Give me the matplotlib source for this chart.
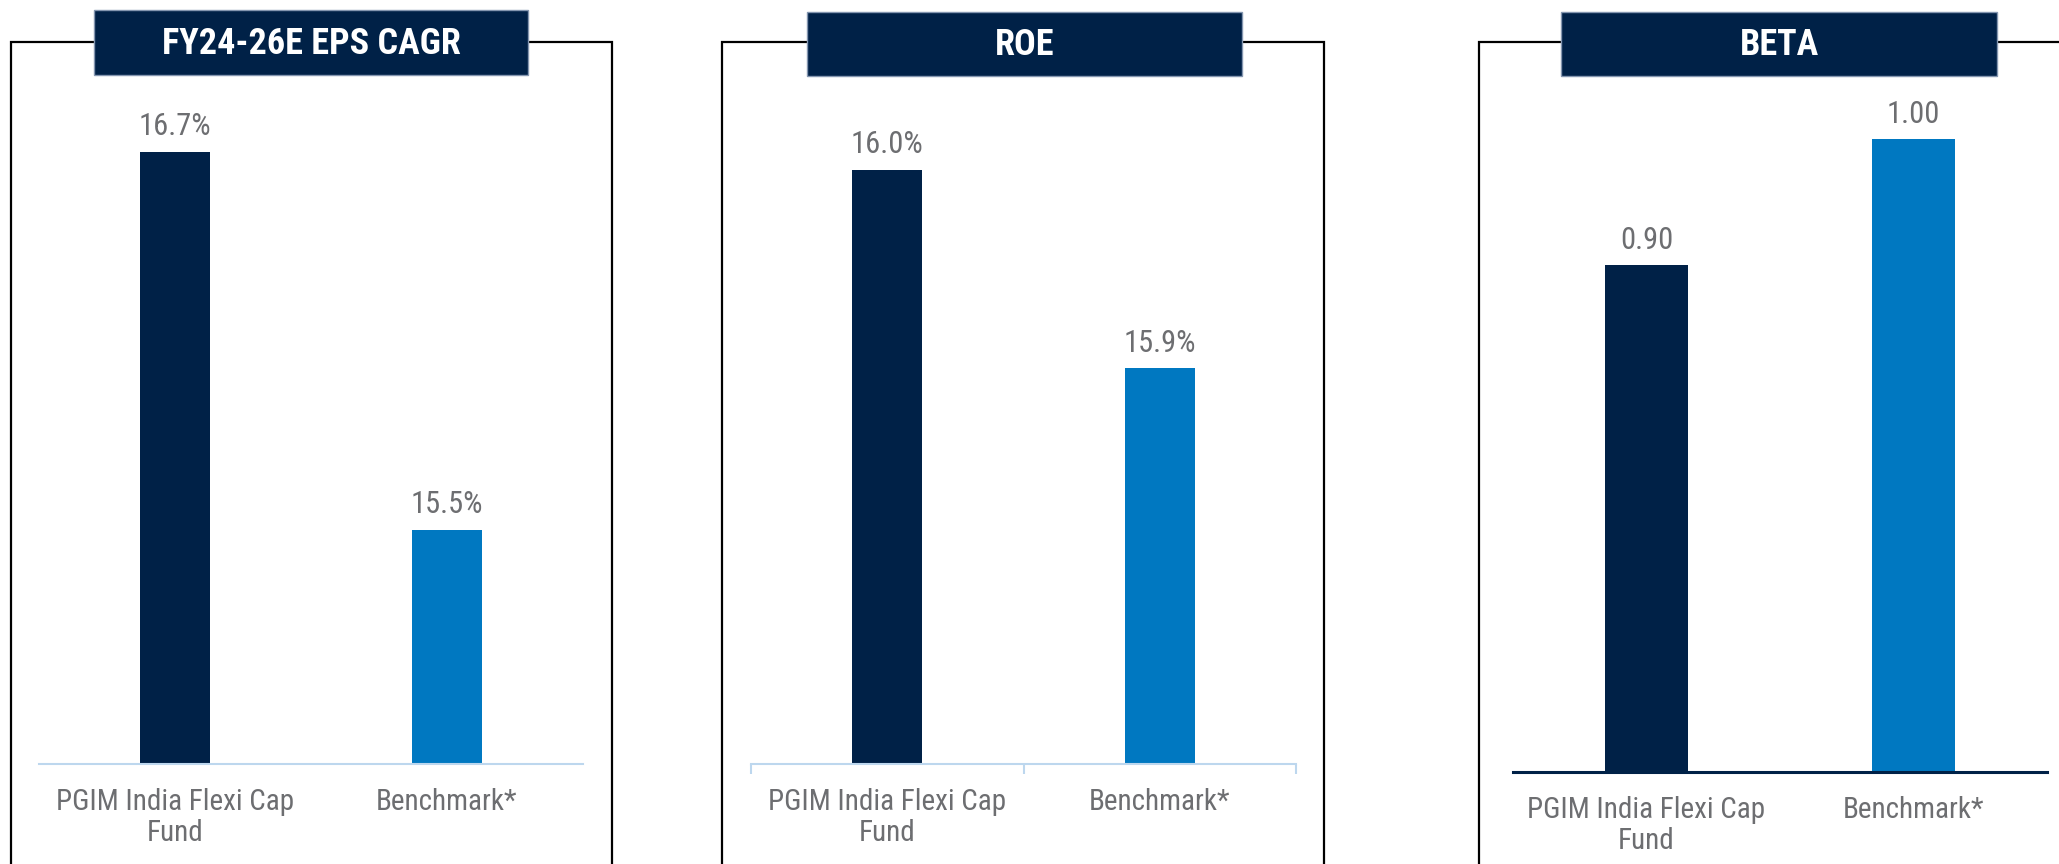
import numpy as np
import matplotlib
matplotlib.use("Agg")
import matplotlib.pyplot as plt
from matplotlib.patches import Rectangle

plt.rcParams['font.family'] = ['Roboto Condensed', 'Liberation Sans', 'DejaVu Sans']

# data
categories = ["PGIM India Flexi Cap\nFund", "Benchmark*"]
eps_cagr = [16.7, 15.5]
roe = [16.0, 15.9]
beta = [0.90, 1.00]
panel_titles = ["FY24-26E EPS CAGR", "ROE", "BETA"]

NAVY = "#002147"
BLUE = "#0078C1"
GREY = "#6D6E71"
LIGHT = "#BDD7EE"

W, H = 2059, 864
fig = plt.figure(figsize=(W / 100, H / 100), dpi=100)


def frac(x0, y0, x1, y1):
    # pixel box (top-left origin) -> figure fraction
    return [x0 / W, 1 - y1 / H, (x1 - x0) / W, (y1 - y0) / H]


# overlay for the framed boxes and title banners
ov = fig.add_axes([0, 0, 1, 1])
ov.set_xlim(0, W)
ov.set_ylim(H, 0)
ov.axis('off')

frames = [
    # left, right, top, title box (x0, y0, x1, y1)
    (10.5, 612, 42, (94, 10, 528, 75)),
    (722, 1324, 42, (807, 12, 1242, 76)),
    (1479, 2100, 42, (1561, 12, 1997, 76)),
]
for (left, right, top, tb), title in zip(frames, panel_titles):
    ov.plot([left, left, right, right], [H + 5, top, top, H + 5], color='black', lw=1.6,
            solid_joinstyle='miter', zorder=1)
    ov.add_patch(Rectangle((tb[0], tb[1]), tb[2] - tb[0], tb[3] - tb[1],
                           facecolor=NAVY, edgecolor='#8496B0', lw=1, zorder=2))
    ov.text((tb[0] + tb[2]) / 2, (tb[1] + tb[3]) / 2 + 1, title, color='white',
            fontsize=26, fontweight='bold', ha='center', va='center', zorder=3)

panels = [
    dict(vals=eps_cagr, fmt="{:.1f}%", box=(39, 100, 583, 764), ylim=(14.757, 16.865),
         width=0.257, axcol=LIGHT, axlw=1.5, seps=False),
    dict(vals=roe, fmt="{:.1f}%", box=(751, 100, 1296, 764), ylim=(15.701, 16.035),
         width=0.257, axcol=LIGHT, axlw=1.5, seps=True),
    dict(vals=beta, fmt="{:.2f}", box=(1513, 100, 2047, 772), ylim=(0.498, 1.031),
         width=0.31, axcol=NAVY, axlw=2.2, seps=False),
]

x = np.arange(len(categories))
for p in panels:
    ax = fig.add_axes(frac(*p['box']))
    ax.patch.set_alpha(0)
    ax.bar(x, p['vals'], width=p['width'], color=[NAVY, BLUE], zorder=2)
    ax.set_xlim(-0.5, 1.5)
    ax.set_ylim(*p['ylim'])
    for xi, v in zip(x, p['vals']):
        ax.annotate(p['fmt'].format(v), (xi, v), xytext=(0, 18), textcoords='offset points',
                    ha='center', va='center', fontsize=22, color=GREY)
    for s in ['top', 'left', 'right']:
        ax.spines[s].set_visible(False)
    ax.spines['bottom'].set_color(p['axcol'])
    ax.spines['bottom'].set_linewidth(p['axlw'])
    ax.set_yticks([])
    ax.set_xticks(x)
    ax.set_xticklabels(categories, linespacing=1.15)
    ax.tick_params(axis='x', length=0, pad=17, labelsize=21, labelcolor=GREY)
    if p['seps']:
        ax.set_xticks([-0.5, 0.5, 1.5], minor=True)
        ax.tick_params(axis='x', which='minor', length=7, width=1.5, color=LIGHT,
                       direction='out')

fig.savefig("out.png", dpi=100)
